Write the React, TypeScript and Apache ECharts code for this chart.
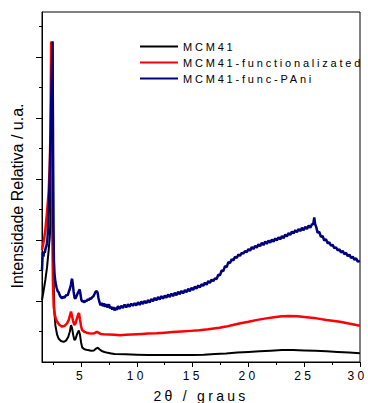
import React, { useEffect, useRef } from "react";
import * as echarts from "echarts";

// Axis ticks (2θ in degrees; intensity in arbitrary units)
const xMajorTicks = [5, 10, 15, 20, 25, 30];
const xMinorTicks = [2.5, 7.5, 12.5, 17.5, 22.5, 27.5];
const yMajorTicks = [200, 400, 600, 800, 1000];
const yMinorTicks = [100, 300, 500, 700, 900, 1100];

const seriesNames = ["MCM41", "MCM41-functionalizated", "MCM41-func-PAni"];
const seriesColors = ["#000000", "#ff0000", "#00007f"];

const xTitle = "2θ / graus";
const yTitle = "Intensidade Relativa / u.a.";

// MCM41 (black)
const mcm41: [number, number][] = [
  [1.5, 203], [1.65, 235], [1.8, 269], [1.95, 310], [2.1, 367], [2.2, 410], [2.28, 480], [2.35, 680],
  [2.41, 930], [2.45, 1050], [2.5, 560], [2.55, 260], [2.6, 170], [2.7, 120], [2.85, 90], [3.0, 76],
  [3.2, 69], [3.45, 66], [3.65, 70], [3.85, 82], [4.0, 100], [4.1, 121], [4.2, 110], [4.3, 88],
  [4.4, 72], [4.5, 75], [4.65, 92], [4.8, 103], [4.9, 90], [5.0, 65], [5.1, 48], [5.3, 42],
  [5.6, 39], [5.9, 37], [6.15, 38], [6.35, 44], [6.5, 47], [6.65, 42], [6.85, 36], [7.1, 33],
  [7.4, 30], [7.7, 28], [8.0, 26], [9, 25], [10, 24], [11, 23], [12, 23], [13, 23], [14, 23],
  [15, 23], [16, 24], [17, 26], [18, 28], [19, 31], [20, 33], [21, 35], [22, 37], [23, 39],
  [24, 39], [25, 38], [26, 37], [27, 35], [28, 33], [29, 31], [30, 29],
];

// MCM41-functionalizated (red)
const mcm41Func: [number, number][] = [
  [1.5, 367], [1.65, 395], [1.8, 433], [1.95, 490], [2.1, 560], [2.2, 650], [2.26, 760], [2.29, 900],
  [2.32, 1050], [2.36, 800], [2.42, 450], [2.48, 260], [2.55, 181], [2.65, 155], [2.75, 140], [2.86, 132],
  [3.05, 122], [3.3, 116], [3.55, 119], [3.75, 127], [3.9, 138], [4.0, 152], [4.1, 165], [4.2, 150],
  [4.3, 132], [4.4, 121], [4.5, 126], [4.62, 142], [4.75, 157], [4.82, 160], [4.9, 140], [5.0, 118],
  [5.09, 105], [5.3, 99], [5.5, 96], [5.7, 94], [5.95, 93], [6.2, 94], [6.4, 99], [6.55, 96],
  [6.75, 92], [7.0, 91], [7.5, 90], [8.0, 89], [8.5, 88], [9, 89], [9.5, 90], [10, 91], [10.5, 92],
  [11, 93], [11.8, 94], [12.5, 96], [13.2, 98], [14, 100], [14.8, 102], [15.6, 104], [16.4, 107],
  [17.4, 112], [18, 116], [18.6, 121], [19.3, 127], [20, 132], [20.8, 138], [21.6, 143], [22.3, 147],
  [23, 150], [23.7, 151], [24.4, 150], [25.2, 147], [26.1, 143], [27, 138], [28.2, 132], [29, 126],
  [30, 119],
];

// MCM41-func-PAni (navy)
const mcm41PAni: [number, number][] = [
  [1.5, 300], [1.54, 335], [1.58, 360], [1.63, 345], [1.68, 362], [1.75, 358], [1.82, 372], [1.9, 380],
  [1.97, 395], [2.05, 440], [2.12, 510], [2.2, 620], [2.28, 760], [2.35, 900], [2.41, 1000], [2.44, 1050],
  [2.48, 800], [2.52, 450], [2.57, 330], [2.62, 290], [2.7, 262], [2.8, 245], [2.9, 232], [3.0, 228],
  [3.1, 218], [3.2, 212], [3.3, 209], [3.4, 214], [3.5, 210], [3.6, 216], [3.7, 220], [3.8, 218],
  [3.9, 230], [4.0, 240], [4.1, 255], [4.16, 270], [4.2, 272], [4.26, 255], [4.33, 232], [4.42, 210],
  [4.5, 208], [4.6, 216], [4.7, 225], [4.8, 233], [4.88, 238], [4.95, 222], [5.02, 205], [5.1, 198],
  [5.2, 200], [5.3, 195], [5.4, 202], [5.5, 199], [5.6, 206], [5.7, 203], [5.8, 209], [5.9, 207],
  [6.0, 212], [6.1, 215], [6.2, 222], [6.3, 230], [6.4, 232], [6.48, 228], [6.56, 210],
  [6.65, 196], [6.75, 186], [6.85, 194], [6.95, 183], [7.05, 192], [7.15, 181], [7.25, 190], [7.35, 179],
  [7.5, 189], [7.6, 176], [7.7, 181], [7.8, 172], [7.9, 180], [8.0, 169], [8.1, 178], [8.2, 171],
  [8.3, 183], [8.45, 174], [8.6, 184], [8.75, 177], [8.9, 188], [9.05, 179], [9.2, 189], [9.35, 181],
  [9.5, 191], [9.65, 184], [9.8, 193], [9.95, 185], [10.1, 196], [10.25, 187], [10.4, 198], [10.55, 190],
  [10.7, 200], [10.85, 193], [11.0, 203], [11.15, 195], [11.3, 206], [11.45, 199], [11.6, 210], [11.75, 202],
  [11.9, 213], [12.05, 205], [12.2, 216], [12.35, 208], [12.5, 218], [12.65, 211], [12.8, 221], [12.95, 213],
  [13.1, 224], [13.25, 216], [13.4, 227], [13.55, 219], [13.7, 230], [13.85, 222], [14.0, 233], [14.15, 225],
  [14.3, 236], [14.45, 229], [14.6, 240], [14.75, 232], [14.9, 243], [15.05, 236], [15.2, 247], [15.35, 240],
  [15.5, 251], [15.65, 244], [15.8, 255], [15.95, 249], [16.1, 260], [16.25, 253], [16.4, 265], [16.55, 259],
  [16.7, 270], [16.85, 265], [17.0, 274], [17.15, 272], [17.3, 286], [17.45, 284], [17.6, 300], [17.75, 298],
  [17.9, 314], [18.05, 311], [18.2, 327], [18.35, 324], [18.5, 337], [18.65, 333], [18.8, 345], [18.95, 341],
  [19.1, 352], [19.25, 348], [19.4, 358], [19.55, 355], [19.7, 364], [19.85, 360], [20.0, 370], [20.15, 365],
  [20.3, 377], [20.45, 370], [20.6, 381], [20.75, 375], [20.9, 386], [21.05, 379], [21.2, 391], [21.35, 383],
  [21.5, 395], [21.65, 387], [21.8, 398], [21.95, 391], [22.1, 401], [22.25, 394], [22.4, 405], [22.55, 398],
  [22.7, 409], [22.85, 402], [23.0, 413], [23.15, 406], [23.3, 418], [23.45, 411], [23.6, 423], [23.75, 416],
  [23.9, 428], [24.05, 421], [24.2, 432], [24.35, 425], [24.5, 436], [24.65, 429], [24.8, 440], [24.95, 432],
  [25.1, 443], [25.25, 436], [25.4, 447], [25.55, 440], [25.7, 452], [25.8, 450], [25.9, 474], [25.98, 452],
  [26.08, 442], [26.2, 424], [26.35, 426], [26.5, 410], [26.65, 413], [26.8, 398], [26.95, 402], [27.1, 389],
  [27.25, 392], [27.4, 381], [27.55, 384], [27.7, 373], [27.85, 376], [28.0, 366], [28.15, 369], [28.3, 359],
  [28.45, 364], [28.6, 353], [28.75, 358], [28.9, 347], [29.05, 352], [29.2, 341], [29.35, 345], [29.5, 335],
  [29.65, 340], [29.8, 329], [30.0, 331],
];

const seriesData = [mcm41, mcm41Func, mcm41PAni];
const seriesWidths = [2, 2.5, 2.5];

const SPACED = "Liberation Sans";
const PLAIN = "Arial, Liberation Sans";

export default function App() {
  const ref = useRef<HTMLDivElement>(null);

  useEffect(() => {
    if (!ref.current) return;
    const chart = echarts.init(ref.current, null, { renderer: "svg" });
    const axisLine = { show: true, lineStyle: { color: "#000", width: 1 } };
    const lastTick = xMajorTicks[xMajorTicks.length - 1];
    const option: any = {
      animation: false,
      grid: {
        left: 42,
        top: 12,
        width: 318,
        height: 350,
        show: true,
        borderColor: "#000",
        borderWidth: 1,
        backgroundColor: "transparent",
        containLabel: false,
        outerBoundsMode: "none",
      },
      xAxis: [
        {
          type: "value",
          min: 1.5,
          max: 30,
          position: "bottom",
          axisLine,
          axisTick: { show: true, customValues: xMajorTicks, length: 5, lineStyle: { color: "#000" } },
          axisLabel: {
            show: true,
            customValues: xMajorTicks,
            margin: 8,
            fontSize: 12,
            fontFamily: SPACED,
            color: "#000",
            formatter: (v: number) => (v === lastTick ? `{last|${v}}` : `${v}`),
            rich: {
              last: {
                fontSize: 12,
                fontFamily: SPACED,
                color: "#000",
                padding: [0, 5, 0, 0],
              },
            },
          },
          splitLine: { show: false },
          name: xTitle,
          nameLocation: "middle",
          nameGap: 27,
          nameTextStyle: { fontSize: 14, fontFamily: SPACED, color: "#000" },
        },
        {
          type: "value",
          min: 1.5,
          max: 30,
          position: "bottom",
          axisLine: { show: false },
          axisTick: { show: true, customValues: xMinorTicks, length: 3, lineStyle: { color: "#000" } },
          axisLabel: { show: false },
          splitLine: { show: false },
        },
      ],
      yAxis: [
        {
          type: "value",
          min: 0,
          max: 1147,
          position: "left",
          axisLine,
          axisTick: { show: true, customValues: yMajorTicks, length: 6, lineStyle: { color: "#000" } },
          axisLabel: { show: false },
          splitLine: { show: false },
        },
        {
          type: "value",
          min: 0,
          max: 1147,
          position: "left",
          axisLine: { show: false },
          axisTick: { show: true, customValues: yMinorTicks, length: 3, lineStyle: { color: "#000" } },
          axisLabel: { show: false },
          splitLine: { show: false },
        },
      ],
      legend: {
        orient: "vertical",
        left: 140,
        top: 41,
        padding: 0,
        itemWidth: 38,
        itemHeight: 2,
        itemGap: 5,
        icon: "rect",
        selectedMode: false,
        data: seriesNames,
        textStyle: { fontSize: 11, fontFamily: SPACED, color: "#000" },
      },
      graphic: [
        {
          type: "text",
          x: 17,
          y: 196,
          rotation: Math.PI / 2,
          style: {
            text: yTitle,
            fontSize: 16,
            fontFamily: PLAIN,
            fill: "#000",
            align: "center",
            verticalAlign: "middle",
            textAlign: "center",
            textVerticalAlign: "middle",
          },
        },
      ],
      series: seriesNames.map((name, i) => ({
        name,
        type: "line",
        xAxisIndex: 0,
        yAxisIndex: 0,
        data: seriesData[i],
        symbol: "none",
        showSymbol: false,
        color: seriesColors[i],
        itemStyle: { color: seriesColors[i] },
        lineStyle: { color: seriesColors[i], width: seriesWidths[i] },
        z: 2 + i,
      })),
    };
    chart.setOption(option);
    return () => chart.dispose();
  }, []);

  return (
    <>
      <style>{`
        #xrd-chart text { letter-spacing: 3.3px; }
        #xrd-chart text[style*="11px"] { letter-spacing: 2.8px; }
        #xrd-chart text[style*="Arial"] { letter-spacing: 0; }
      `}</style>
      <div
        id="xrd-chart"
        ref={ref}
        style={{ position: "fixed", left: 0, top: 0, width: 368, height: 403, background: "#fff" }}
      />
    </>
  );
}
